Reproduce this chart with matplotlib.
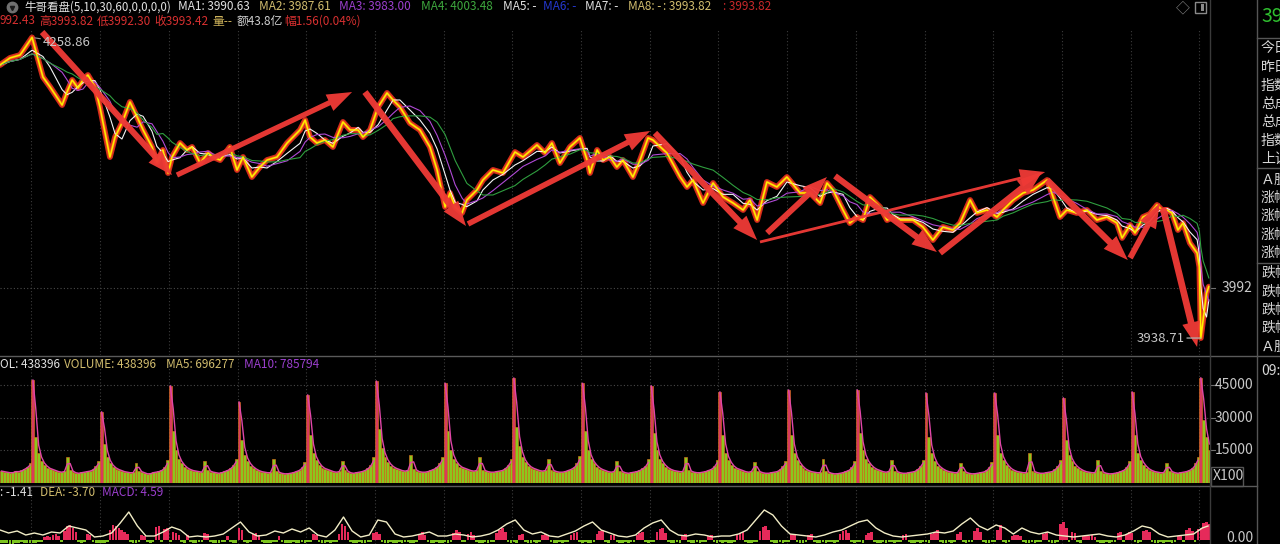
import numpy as np
import pandas as pd
import matplotlib
matplotlib.use("Agg")
import matplotlib.pyplot as plt
from matplotlib.patches import FancyArrowPatch, Rectangle, ArrowStyle
from matplotlib.lines import Line2D
import matplotlib.transforms as mtransforms

plt.rcParams['font.family'] = ['Noto Sans CJK SC', 'DejaVu Sans']

# ---------------- data ----------------
# price trace (bar index of 10-minute bars, price)
price_t = [0, 3.5, 7, 11.2, 15, 17.5, 21.7, 23.4, 25.2, 27.2,
           29, 30.7, 33.2, 34.9, 38.4, 40.2, 42.6, 45.4, 47.9, 50,
           53.1, 54.8, 56.9, 58.7, 60.1, 62.9, 65.3, 67.1, 69.9, 72.7,
           74.4, 76.9, 80.3, 82.8, 84.9, 88, 90.8, 93.3, 96.8, 100.3,
           104.8, 106.6, 108.3, 110.7, 113.5, 116.3, 119.8, 122.3, 125.1, 126.8,
           129.3, 132.1, 135.2, 137.3, 139.7, 143.2, 146.7, 150.2, 152.7, 155.5,
           157.2, 159, 161.4, 163.1, 166.6, 168.7, 172.2, 175.7, 179.9, 182.7,
           187.6, 190.4, 192.8, 195.6, 199.1, 202.6, 205.1, 206.1, 208.6, 210.7,
           213.1, 215.5, 217.6, 221.1, 223.6, 226.4, 228.1, 233, 237.6, 240,
           242.1, 245.6, 249.1, 252.6, 256.1, 259.6, 262, 264.5, 267.9, 271.4,
           274.9, 279.5, 283, 286.5, 288.9, 291, 294.5, 296.9, 299.4, 301.5,
           303.9, 307.4, 309.9, 312, 314.4, 319, 322.4, 325.9, 329.4, 332.9,
           335.4, 338.9, 341.3, 344.8, 348.3, 350.4, 353.9, 357.4, 360.9, 365.8,
           367.9, 370.3, 372.7, 376.2, 379.7, 383.2, 386.7, 390.2, 392, 394.8,
           396.5, 399.3, 401.7, 404.2, 405.9, 407.7, 409.4, 411.5, 413.3, 415.7,
           418.2, 419, 419.5, 420.3, 421.5, 422.3]
price_v = [4229.5, 4237.0, 4240.1, 4258.86, 4216.7, 4206.1, 4186.9, 4200.7, 4213.5, 4205.0,
           4213.5, 4218.8, 4206.1, 4184.8, 4131.5, 4152.8, 4167.7, 4190.1, 4174.1, 4160.3,
           4142.2, 4126.2, 4139.0, 4114.5, 4131.5, 4146.4, 4139.0, 4142.2, 4125.1, 4135.8,
           4131.5, 4128.3, 4142.2, 4117.7, 4131.5, 4110.2, 4120.9, 4128.3, 4131.5, 4146.4,
           4160.3, 4170.9, 4152.8, 4146.4, 4149.6, 4142.2, 4168.8, 4160.3, 4160.3, 4152.8,
           4160.3, 4184.8, 4199.7, 4192.2, 4184.8, 4167.7, 4160.3, 4142.2, 4117.7, 4078.3,
           4093.2, 4078.3, 4071.9, 4085.7, 4096.4, 4107.0, 4117.7, 4114.5, 4136.8, 4131.5,
           4144.3, 4135.8, 4146.4, 4125.1, 4142.2, 4151.8, 4128.3, 4114.5, 4139.0, 4128.3,
           4131.5, 4120.9, 4128.3, 4110.2, 4128.3, 4151.8, 4149.6, 4135.8, 4110.2, 4099.6,
           4107.0, 4082.5, 4103.8, 4088.9, 4082.5, 4075.1, 4085.7, 4064.4, 4104.9, 4099.6,
           4110.2, 4093.2, 4093.2, 4082.5, 4103.8, 4096.4, 4075.1, 4061.2, 4067.6, 4064.4,
           4088.9, 4078.3, 4064.4, 4067.6, 4064.4, 4064.4, 4057.0, 4043.1, 4057.0, 4053.8,
           4061.2, 4085.7, 4071.9, 4075.1, 4067.6, 4075.1, 4085.7, 4093.2, 4096.4, 4107.0,
           4088.9, 4067.6, 4075.1, 4071.9, 4075.1, 4064.4, 4067.6, 4061.2, 4045.3, 4059.1,
           4050.6, 4067.6, 4070.8, 4080.4, 4075.1, 4075.1, 4071.9, 4053.8, 4061.2, 4039.9,
           4029.3, 4014.4, 3938.71, 3957.9, 3986.7, 3993.42]
price_high = 4258.86
price_low = 3938.71
price_ref = 3992

# hand-drawn trend arrows: (t_start, p_start, t_end, p_end, shaft)
trend_arrows = [(14.7, 4264.6, 60.1, 4112.3, 4.4),
                (61.8, 4112.3, 123.0, 4200.7, 3.8),
                (127.5, 4200.7, 162.8, 4058.0, 4.6),
                (163.5, 4060.2, 227.1, 4159.2, 4.0),
                (228.8, 4157.1, 264.5, 4043.1, 4.4),
                (265.5, 4041.0, 365.1, 4115.5, 2.0),
                (268.0, 4050.6, 288.9, 4110.2, 4.2),
                (291.7, 4111.3, 327.3, 4030.3, 4.4),
                (328.4, 4029.3, 364.0, 4115.5, 4.4),
                (365.8, 4107.0, 394.0, 4021.8, 4.6),
                (394.8, 4024.0, 405.2, 4082.5, 4.2),
                (406.3, 4077.2, 418.2, 3929.2, 4.8)]

# volume (thousands, x100 shares as displayed); previous-day tail, then one string per day
vol_pre = "5.5 5 5 4.5 5 5.5 5 6 6.5 7.5 9"
vol_days = [
    "47.5 21 14 10 8.5 7 6.5 6 5.5 5 5 5.5 12 6 5 4.5 4.5 5 5 5.5 5.5 6.5 8 10",
    "32.8 18 12 9 7.5 6.5 6 5.5 5 5 4.5 5 9 5.5 5 4.5 4 4.5 5 5 5.5 6 7.5 10.5",
    "44.8 24 15 11 9 7.5 6.5 6 5.5 5.5 5 5 10 6 5 5 4.5 4.5 5 5.5 6 7 8.5 11",
    "37.4 20 13 10 8 7 6 5.5 5 5 4.5 5 11 5.5 4.5 4.5 4 4.5 4.5 5 5.5 6 7.5 9.5",
    "40.6 22 14 10.5 8.5 7 6.5 6 5.5 5 5 5.5 10 6 5 4.5 4.5 5 5 5.5 6 7 8.5 12",
    "47 25 16 12 9.5 8 7 6.5 6 5.5 5.5 6 13 6.5 5.5 5 5 5 5.5 6 6.5 7.5 9 12",
    "46 24 15 11 9 7.5 7 6.5 6 5.5 5.5 6 12 6 5.5 5 5 5 5.5 5.5 6 7 8.5 11",
    "48.4 26 17 12 9.5 8 7 6.5 6 5.5 5.5 6 11 6 5.5 5 5 5 5.5 6 6.5 7.5 9 12.5",
    "46 24 15 11 9 7.5 6.5 6 5.5 5 5 5.5 10 5.5 5 4.5 4.5 5 5 5.5 6 7 8 11",
    "44.8 23 15 11 9 7.5 6.5 6 5.5 5.5 5 5.5 12 6 5 5 4.5 5 5 5.5 6 6.5 8 10.5",
    "42 22 14 10.5 8.5 7 6.5 6 5.5 5 5 5.5 9.5 5.5 5 4.5 4.5 4.5 5 5 5.5 6.5 8 10",
    "42.9 22 14 10.5 8.5 7 6 5.5 5 5 4.5 5 11 5.5 4.5 4.5 4 4.5 4.5 5 5.5 6 7.5 10",
    "42.9 23 15 11 9 7.5 6.5 6 5.5 5 5 5.5 10.5 5.5 5 4.5 4.5 4.5 5 5 5.5 6.5 8 10.5",
    "41.5 21 14 10 8 7 6 5.5 5 5 4.5 5 9 5.5 4.5 4.5 4 4.5 4.5 5 5 6 7.5 9.5",
    "41.5 22 14 10.5 8.5 7 6 5.5 5 5 4.5 5 14 5.5 5 4.5 4.5 4.5 5 5 5.5 6.5 8 10.5",
    "39.2 20 13 10 8 7 6 5.5 5 5 4.5 5 10.5 5.5 4.5 4.5 4 4.5 4.5 5 5.5 6 7.5 10",
    "42 22 14 10.5 8.5 7 6 5.5 5 5 4.5 5 9 5.5 5 4.5 4.5 5 5 5.5 6 7 9 12",
    "48.5 29 21 15",
]

# MACD histogram per bar; previous-day tail, then one string per day
macd_pre = "-3 -3 -3 -4 -4 -3 -3 -2 -3 -3 -3"
macd_days = [
    "-3 -3 -2 -2 3 4 3 5 6 4 -2 9 14 15 12 8 -2 -3 -2 6 5 -2 -3 -3",
    "-3 -3 -2 10 15 14 12 10 8 6 -2 -3 -3 -2 5 4 -2 -3 -2 13 14 -2 11 12",
    "-2 8 7 5 -2 -3 5 -2 -3 -3 -2 -2 7 6 -2 -3 -3 -3 -2 -2 4 -2 -3 -3",
    "12 10 -2 -3 -2 6 7 5 -2 -3 -3 -3 -2 -2 4 -2 -3 -3 -3 -2 -3 -3 -2 -3",
    "-2 -2 6 5 -2 -3 -3 -2 -3 -2 -2 6 16 14 8 -2 -3 -3 -2 -3 -3 -2 -2 7",
    "8 6 -2 -3 -3 -2 -3 -3 -2 -3 -2 -2 -3 -3 -2 6 8 5 -2 -3 -3 -2 -3 -3",
    "-2 -3 -2 7 10 8 -2 -2 6 8 5 -2 -3 -3 -2 -3 -2 -2 7 10 12 8 -2 -3",
    "-2 -3 5 6 -2 -3 -3 -2 -3 -2 5 6 4 -2 -3 -3 -2 -3 -2 -2 5 7 8 -2",
    "-3 -2 -3 -3 -2 6 9 10 -2 -3 5 6 -2 -3 -3 -2 -3 -2 -2 5 7 8 -2 -3",
    "-2 -2 8 11 12 7 -2 -3 -3 -2 -3 5 6 -2 -3 -3 -2 -3 -2 -2 4 5 -2 -3",
    "-2 -3 -2 -3 -3 -2 5 7 8 -2 -3 -3 -2 -2 9 13 14 10 -2 -3 -3 -2 -3 -2",
    "-2 6 5 -2 -3 -3 -2 5 6 -2 -3 -3 -2 -3 -2 -2 -3 -2 6 9 10 7 -2 -3",
    "-2 -2 -3 5 7 8 -2 -3 -3 -2 -3 -2 -2 -3 -2 -2 5 6 -2 -3 -3 -2 -3 -2",
    "-2 -3 6 8 10 -2 -3 -3 -2 -3 -2 6 8 -2 -3 -2 -2 9 12 8 -2 -3 -3 -2",
    "-2 10 15 -2 -3 -2 4 5 5 4 -2 -3 -3 -2 -3 -2 -2 6 8 -2 -3 -3 -2 16",
    "18 12 -2 8 7 -2 -3 4 5 4 5 3 -2 -3 -3 -2 -3 -2 -2 7 8 -2 6 8",
    "7 -2 -3 -2 9 10 8 -2 -3 -3 -2 -3 -2 -2 -3 -2 4 5 -2 10 12 9 -2 11",
    "12 17 18 16",
]
# DIF line, one value every 3 bars
dif_vals = [10, 7, 9, 5, 7, 5, 8, 7, 14, 12, 10, 3, 4, 7, 17, 28, 14, 4, 4, 8,
            13, 10, 3, 4, 3, 4, 6, 12, 18, 8, 4, 5, 9, 7, 11, 8, 12, 5, 3, 10,
            23, 9, 3, 5, 20, 18, 6, 3, 4, 6, 8, 4, 4, 6, 5, 3, 4, 6, 10, 16,
            20, 10, 6, 8, 4, 3, 6, 9, 14, 18, 10, 7, 4, 3, 5, 12, 17, 20, 10, 5,
            4, 6, 5, 3, 4, 4, 6, 10, 20, 30, 25, 14, 6, 5, 4, 3, 5, 8, 10, 14,
            18, 20, 12, 7, 4, 3, 4, 5, 6, 8, 7, 9, 16, 22, 14, 10, 15, 12, 6, 12,
            8, 6, 8, 5, 4, 3, 4, 5, 6, 4, 3, 5, 9, 14, 12, 6, 3, 4, 5, 6, 12, 14]

vol_ticks = [15000, 30000, 45000]

header1 = [("牛哥看盘(5,10,30,60,0,0,0,0)", '#e2e2e2'), ("MA1: 3990.63", '#e2e2e2'),
           ("MA2: 3987.61", '#d2bd6e'), ("MA3: 3983.00", '#9c3fcf'),
           ("MA4: 4003.48", '#3ea83e'), ("MA5: -", '#e2e2e2'), ("MA6: -", '#2438d0'),
           ("MA7: -", '#e2e2e2'), ("MA8: -", '#d2bd6e'), (": 3993.82", '#d2bd6e'),
           (": 3993.82", '#c8282a')]
header2 = [("992.43", '#d83030'), ("高3993.82", '#d83030'), ("低3992.30", '#d83030'),
           ("收3993.42", '#d83030'), ("量--", '#cdb25a'), ("额43.8亿", '#cfcfcf'),
           ("幅1.56(0.04%)", '#d83030')]
vol_header = [("OL: 438396", '#e2e2e2'), ("VOLUME: 438396", '#d2bd6e'),
              ("MA5: 696277", '#d2bd6e'), ("MA10: 785794", '#9c3fcf')]
macd_header = [(": -1.41", '#e2e2e2'), ("DEA: -3.70", '#d2bd6e'), ("MACD: 4.59", '#9c3fcf')]
panel_labels = ["今日开盘", "昨日收盘", "指数涨跌", "总成交量", "总成交额", "指数振幅", "上证换手",
                "Ａ股上涨", "涨幅>7%", "涨幅5-7%", "涨幅3-5%", "涨幅0-3%",
                "跌幅0-3%", "跌幅3-5%", "跌幅5-7%", "跌幅>7%", "Ａ股下跌", "09:50"]
panel_value = "3992.43"

# ---------------- layout ----------------
W, H = 1280.0, 544.0
fig = plt.figure(figsize=(12.8, 5.44), dpi=100)
fig.patch.set_facecolor('black')


def fx(x):
    return x / W


def fy(y):
    return 1.0 - y / H


PLOT_R = 1210.0
BAR_PX = 68.7 / 24.0
XMAX = PLOT_R / BAR_PX
N_DAYS = len(vol_days)
GRID = '#3c3c3c'
LBL = '#c8c8c8'


def mk_ax(top, bottom):
    ax = fig.add_axes([0, fy(bottom), fx(PLOT_R), (bottom - top) / H])
    ax.set_facecolor('black')
    ax.set_xlim(0, XMAX)
    for s in ax.spines.values():
        s.set_visible(False)
    ax.set_xticks([])
    ax.set_yticks([])
    return ax


ax_p = mk_ax(30, 355)
ax_v = mk_ax(358, 483)
ax_m = mk_ax(487, 544)

ax_p.set_ylim(3992 - 67 * 1.065, 3992 + 258 * 1.065)
ax_v.set_ylim(0, 125 * 461.5)
ax_m.set_ylim(-4, 53)

day_starts = [11 + 24 * k for k in range(N_DAYS)]
for ax in (ax_p, ax_v, ax_m):
    for d in day_starts:
        ax.axvline(d, color=GRID, lw=0.8, ls=(0, (1, 2)), zorder=0)

# ---------------- price panel ----------------
pt = np.array(price_t)
pv = np.array(price_v)
s = pd.Series(pv)
ax_p.axhline(price_ref, color='#4a4a4a', lw=0.8, ls=(0, (1, 2)), zorder=0)
ax_p.plot(pt, pv, color='#d42a1c', lw=4.2, solid_joinstyle='round', solid_capstyle='round', zorder=3)
ax_p.plot(pt, pv, color='#f26418', lw=2.2, alpha=0.85, solid_joinstyle='round', zorder=4)
ax_p.plot(pt, s.rolling(3, min_periods=1).mean(), color='#f4f4f4', lw=0.8, zorder=5)
ax_p.plot(pt, s.rolling(5, min_periods=1).mean(), color='#b04ad6', lw=0.8, zorder=5)
ax_p.plot(pt, s.rolling(8, min_periods=1).mean(), color='#2f9e3f', lw=0.8, zorder=5)
ax_p.plot(pt, pv, color='#ffee00', lw=1.1, solid_joinstyle='round', zorder=6)

for (t0, p0, t1, p1, tw) in trend_arrows:
    st = ArrowStyle.Simple(head_length=18, head_width=13, tail_width=tw)
    ar = FancyArrowPatch((t0, p0), (t1, p1), arrowstyle=st, mutation_scale=1,
                         shrinkA=0, shrinkB=0, facecolor='#ee3a36', edgecolor='none',
                         alpha=0.96, zorder=8)
    ax_p.add_patch(ar)

hi_idx = int(np.argmax(pv))
ax_p.annotate(f"{price_high:.2f}", xy=(pt[hi_idx], price_high), xytext=(8, -4),
              textcoords='offset points', color=LBL, fontsize=9.5, va='center', ha='left',
              arrowprops=dict(arrowstyle='-', color='#9a9a9a', lw=0.8, shrinkA=0, shrinkB=2),
              zorder=9)
lo_idx = int(np.argmin(pv))
ax_p.annotate(f"{price_low:.2f}", xy=(pt[lo_idx], price_low), xytext=(-12, 0),
              textcoords='offset points', color=LBL, fontsize=9.5, va='center', ha='right',
              arrowprops=dict(arrowstyle='-', color='#b0b0b0', lw=0.9, shrinkA=0, shrinkB=0),
              zorder=9)

bt_p = mtransforms.blended_transform_factory(ax_p.transAxes, ax_p.transData)
ax_p.text(1253 / PLOT_R, price_ref, f"{price_ref}", transform=bt_p, ha='right', va='center',
          color=LBL, fontsize=10, clip_on=False)
ax_p.plot([1, 1 + 5 / PLOT_R], [price_ref, price_ref], transform=bt_p, color='#707070',
          lw=0.8, clip_on=False)

# ---------------- volume panel ----------------
for k, dstr in enumerate([vol_pre] + vol_days):
    vals = np.array([float(v) for v in dstr.split()]) * 1000
    start = 0 if k == 0 else day_starts[k - 1]
    xs = start + np.arange(len(vals)) + 0.5
    cols = ['#d83a5e' if v > 30000 else '#8cc61e' for v in vals]
    ax_v.bar(xs, vals, width=1.0, color=cols, edgecolor='#d6701c', linewidth=0.45, zorder=2)
    ma = pd.Series(vals).rolling(2, min_periods=1).mean()
    ax_v.plot(xs, ma, color='#e046a8', lw=1.0, zorder=3)

bt_v = mtransforms.blended_transform_factory(ax_v.transAxes, ax_v.transData)
for v in vol_ticks:
    ax_v.axhline(v, color='#4a4a4a', lw=0.8, ls=(0, (1, 2)), zorder=0)
    ax_v.text(1253 / PLOT_R, v, f"{v}", transform=bt_v, ha='right', va='center',
              color=LBL, fontsize=10, clip_on=False)
    ax_v.plot([1, 1 + 5 / PLOT_R], [v, v], transform=bt_v, color='#707070', lw=0.8, clip_on=False)

# ---------------- MACD panel ----------------
for k, dstr in enumerate([macd_pre] + macd_days):
    vals = np.array([float(v) for v in dstr.split()])
    start = 0 if k == 0 else day_starts[k - 1]
    xs = start + np.arange(len(vals)) + 0.5
    cols = ['#e62a5a' if v > 0 else '#7cc41e' for v in vals]
    ax_m.bar(xs, vals, width=0.9, color=cols, linewidth=0, zorder=2)
dif_t = np.minimum(np.arange(len(dif_vals)) * 3, 422)
ax_m.plot(dif_t, dif_vals, color='#f2edc6', lw=1.0, zorder=3)
bt_m = mtransforms.blended_transform_factory(ax_m.transAxes, ax_m.transData)
ax_m.text(1253 / PLOT_R, 1.5, "0.00", transform=bt_m, ha='right', va='center',
          color=LBL, fontsize=10, clip_on=False)

# ---------------- frame lines ----------------
def hline(y, x0, x1, c='#5a5a5a', lw=1.0):
    fig.add_artist(Line2D([fx(x0), fx(x1)], [fy(y), fy(y)], color=c, lw=lw))


def vline(x, y0, y1, c='#4a4a4a', lw=1.0):
    fig.add_artist(Line2D([fx(x), fx(x)], [fy(y0), fy(y1)], color=c, lw=lw))


hline(356, 0, 1280)
hline(486, 0, 1257)
vline(1210, 0, 544, c='#3a3a3a')
vline(1257, 0, 544, c='#555555')
for yy in (38, 168, 263):
    hline(yy, 1257, 1280, c='#555555')
fig.add_artist(Rectangle((fx(1211), fy(486)), fx(32), 19 / H, transform=fig.transFigure,
                         fill=False, edgecolor='#555555', lw=1.0))
fig.text(fx(1213), fy(476), "X100", color=LBL, fontsize=10, ha='left', va='center')

# ---------------- header texts ----------------
FS = 8.5
x1 = [24, 178, 259, 339, 421, 503, 543, 585, 628, 663, 723]
for i, (x, (txt, c)) in enumerate(zip(x1, header1)):
    fig.text(fx(x), fy(7), txt, color=c, fontsize=(8.3 if i == 0 else FS), ha='left', va='center')
x2 = [-1, 39, 97, 154, 212, 237, 284]
for x, (txt, c) in zip(x2, header2):
    fig.text(fx(x), fy(21), txt, color=c, fontsize=FS, ha='left', va='center')
for x, (txt, c) in zip([0, 64, 166, 244], vol_header):
    fig.text(fx(x), fy(364), txt, color=c, fontsize=FS, ha='left', va='center')
for x, (txt, c) in zip([0, 40, 102], macd_header):
    fig.text(fx(x), fy(493), txt, color=c, fontsize=FS, ha='left', va='center')

fig.add_artist(Line2D([fx(12)], [fy(7)], marker='o', ms=7.5, color='#707070', lw=0))
fig.add_artist(Line2D([fx(12)], [fy(7.5)], marker='v', ms=3, color='#1a1a1a', lw=0))
fig.text(fx(1183), fy(8), "◇", color='#8a8a8a', fontsize=10, ha='center', va='center')
fig.add_artist(Rectangle((fx(1195), fy(13)), fx(11), 11 / H, transform=fig.transFigure,
                         fill=False, edgecolor='#8a8a8a', lw=1.0))
fig.add_artist(Rectangle((fx(1201), fy(11)), fx(3), 7 / H, transform=fig.transFigure,
                         facecolor='#8a8a8a', edgecolor='none'))

# ---------------- right info panel ----------------
fig.text(fx(1261), fy(16), panel_value, color='#2fbf2f', fontsize=14, ha='left', va='center')
ys = [48, 67, 86, 104, 122, 141, 159, 180, 198, 216, 235, 253, 273, 292, 310, 328, 347, 371]
for y, txt in zip(ys, panel_labels):
    fig.text(fx(1261), fy(y), txt, color='#d6d6d6', fontsize=10, ha='left', va='center')

fig.savefig("out.png", dpi=100, facecolor='black')
